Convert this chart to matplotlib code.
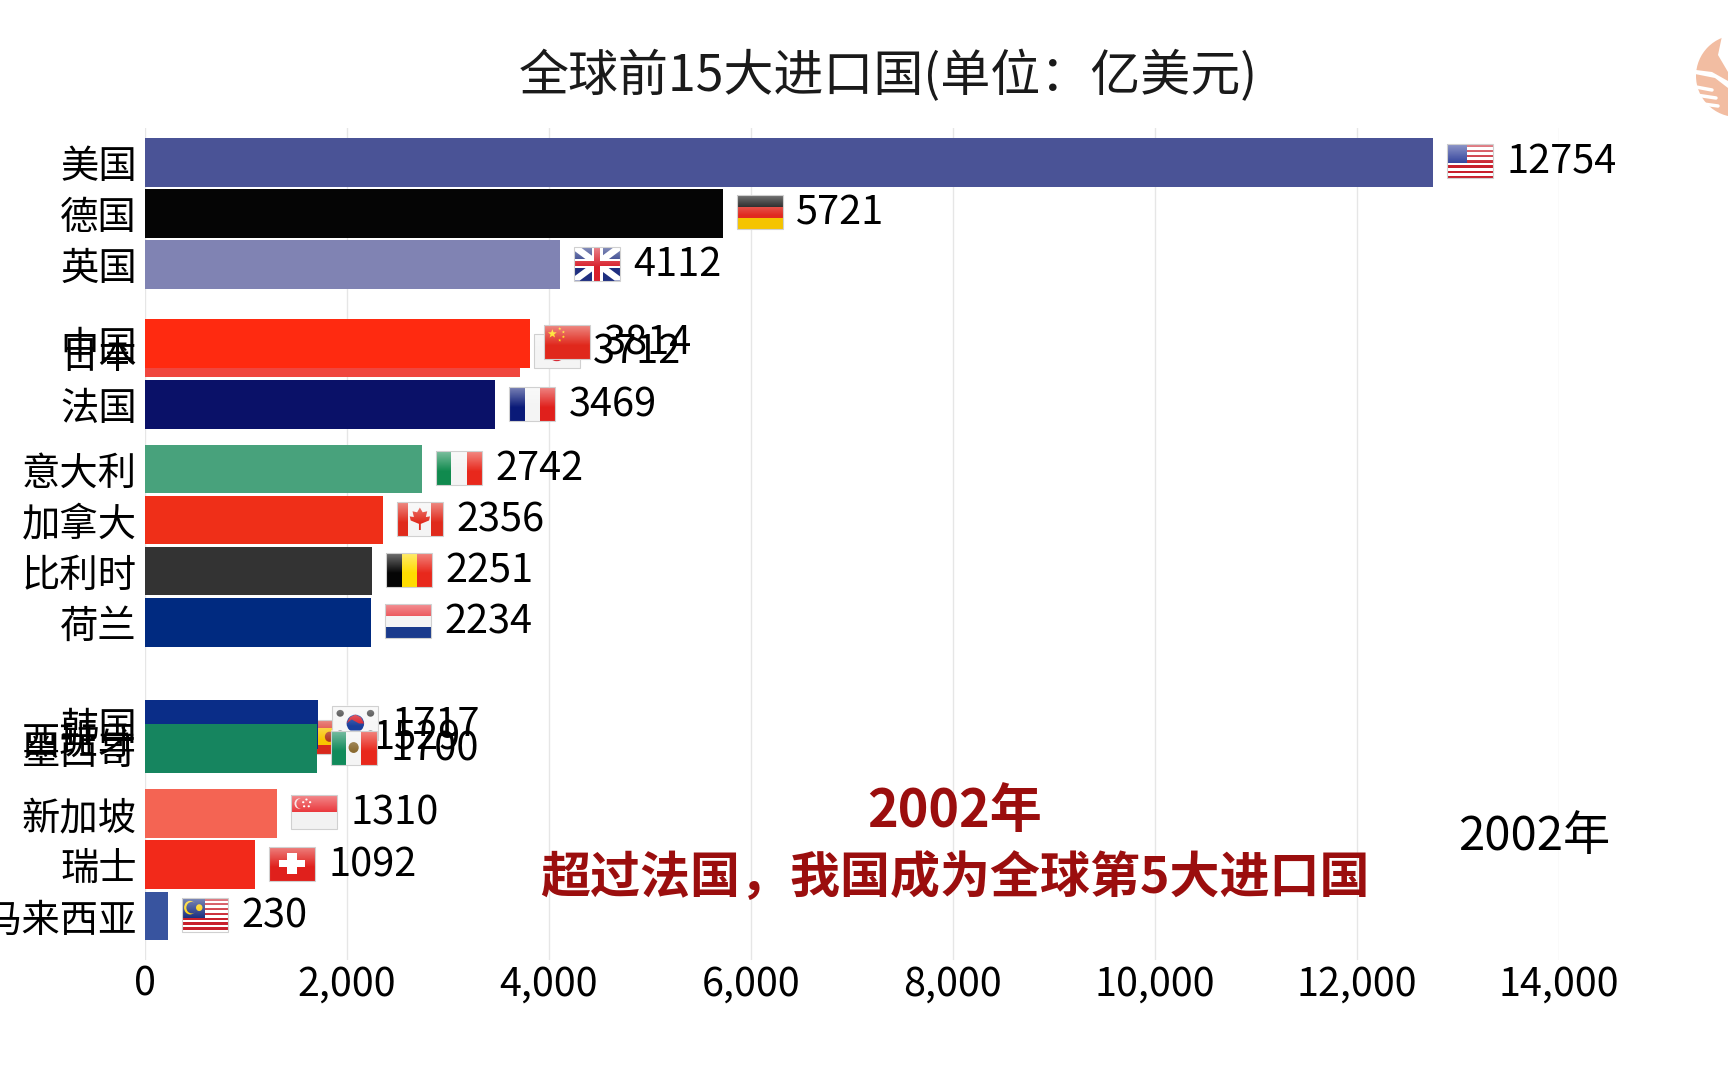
import numpy as np
import matplotlib
matplotlib.use("Agg")
import matplotlib.pyplot as plt
from matplotlib.patches import Rectangle, Circle, Polygon, Ellipse
from matplotlib.transforms import Affine2D

plt.rcParams["font.family"] = ["Noto Sans CJK SC", "DejaVu Sans"]

# back to front, the video frame was caught mid-swap so ranks are fractional
names = ["美国", "德国", "英国", "日本", "中国", "法国", "意大利", "加拿大", "比利时", "荷兰",
         "西班牙", "韩国", "墨西哥", "新加坡", "瑞士", "马来西亚"]
values = [12754, 5721, 4112, 3712, 3814, 3469, 2742, 2356, 2251, 2234,
          1529, 1717, 1700, 1310, 1092, 230]
ranks = [0, 1.0, 2.0, 3.72, 3.54, 4.74, 6.0, 7.0, 8.0, 9.0,
         11.26, 11.0, 11.47, 12.74, 13.74, 14.75]
colors = ["#4a5396", "#050505", "#8083b3", "#f0463e", "#ff2a10", "#0a1168", "#48a27c", "#ef2f18",
          "#333333", "#002a80", "#d8342a", "#0a2d88", "#16855f", "#f46453", "#f2291a", "#38549f"]
flag_keys = ["us", "de", "gb", "jp", "cn", "fr", "it", "ca", "be", "nl",
             "es", "kr", "mx", "sg", "ch", "my"]
xticks = [0, 2000, 4000, 6000, 8000, 10000, 12000, 14000]
year = "2002年"
note = "超过法国，我国成为全球第5大进口国"
title = "全球前15大进口国(单位：亿美元)"

W, H = 1728, 1080
RIGHT = 1558.5
fig = plt.figure(figsize=(W / 100, H / 100), dpi=100, facecolor="white")
ax = fig.add_axes([145 / W, 1 - 960 / H, (RIGHT - 145) / W, (960 - 128) / H])
ax.set_xlim(0, 14000)
px_per_rank = 51.1
ax.set_ylim((960 - 162.4) / px_per_rank, (128 - 162.4) / px_per_rank)

for s in ax.spines.values():
    s.set_visible(False)
ax.set_xticks(xticks)
ax.set_xticklabels([f"{t:,}" for t in xticks], fontsize=28.4)
ax.tick_params(axis="x", length=0, pad=3)
ax.set_yticks([])
ax.grid(axis="x", color="#e6e6e6", lw=1)
ax.set_axisbelow(True)

PX = 14000 / (RIGHT - 145)  # data units per pixel in x
FW, FH = 46 * PX, 34 / px_per_rank


def stripes(cols, vertical=False):
    out = []
    n = len(cols)
    for i, c in enumerate(cols):
        if vertical:
            out.append(Rectangle((i / n, 0), 1 / n, 1, fc=c))
        else:
            out.append(Rectangle((0, i / n), 1, 1 / n, fc=c))
    return out


def star(cx, cy, r, c="#ffe000"):
    a = np.linspace(0, 2 * np.pi, 11)[:-1] - np.pi / 2
    rr = np.where(np.arange(10) % 2 == 0, r, r * 0.42)
    return Polygon(np.c_[cx + rr * np.cos(a), cy + rr * np.sin(a) * 46 / 34], fc=c)


def flag_shapes(key):
    # unit square, y pointing down
    if key == "us":
        out = stripes(["#c8202c", "#ffffff"] * 6 + ["#c8202c"])
        return out + [Rectangle((0, 0), 0.45, 0.54, fc="#2f3f9a")]
    if key == "de":
        return stripes(["#000000", "#e02a20", "#f5c400"])
    if key == "gb":
        out = [Rectangle((0, 0), 1, 1, fc="#1f2f80")]
        for p in ([(0, 0), (0.12, 0), (1, 0.88), (1, 1), (0.88, 1), (0, 0.12)],
                  [(1, 0), (1, 0.12), (0.12, 1), (0, 1), (0, 0.88), (0.88, 0)]):
            out.append(Polygon(p, fc="#ffffff"))
        out.append(Rectangle((0.38, 0), 0.24, 1, fc="#ffffff"))
        out.append(Rectangle((0, 0.36), 1, 0.28, fc="#ffffff"))
        out.append(Rectangle((0.44, 0), 0.12, 1, fc="#d8202c"))
        out.append(Rectangle((0, 0.43), 1, 0.14, fc="#d8202c"))
        return out
    if key == "jp":
        return [Rectangle((0, 0), 1, 1, fc="#f4f4f4"), Ellipse((0.5, 0.5), 0.42, 0.57, fc="#d8202c")]
    if key == "cn":
        out = [Rectangle((0, 0), 1, 1, fc="#e0281c"), star(0.18, 0.25, 0.1)]
        for cx, cy in [(0.34, 0.1), (0.42, 0.2), (0.42, 0.34), (0.34, 0.44)]:
            out.append(star(cx, cy, 0.035))
        return out
    if key == "fr":
        return stripes(["#0a1a78", "#f4f4f4", "#e0201c"], True)
    if key == "it":
        return stripes(["#108a4e", "#f4f4f4", "#e8281c"], True)
    if key == "ca":
        out = [Rectangle((0, 0), 1, 1, fc="#f4f4f4"),
               Rectangle((0, 0), 0.25, 1, fc="#e02a1c"), Rectangle((0.75, 0), 0.25, 1, fc="#e02a1c")]
        leaf = [(0.5, 0.16), (0.56, 0.3), (0.66, 0.27), (0.63, 0.44), (0.72, 0.42), (0.7, 0.54),
                (0.52, 0.64), (0.52, 0.82), (0.48, 0.82), (0.48, 0.64), (0.3, 0.54), (0.28, 0.42),
                (0.37, 0.44), (0.34, 0.27), (0.44, 0.3)]
        return out + [Polygon(leaf, fc="#e02a1c")]
    if key == "be":
        return stripes(["#050505", "#ffdc00", "#e8281c"], True)
    if key == "nl":
        return stripes(["#e8343a", "#f4f4f4", "#1a3a8c"])
    if key == "es":
        return stripes(["#d8281c", "#f8c400", "#f8c400", "#d8281c"]) + [Ellipse((0.35, 0.5), 0.2, 0.3, fc="#b03a20")]
    if key == "kr":
        out = [Rectangle((0, 0), 1, 1, fc="#f6f6f6"), Ellipse((0.5, 0.5), 0.38, 0.52, fc="#1a3f9c"),
               Polygon([(0.31, 0.5), (0.42, 0.38), (0.58, 0.5), (0.69, 0.5), (0.62, 0.32), (0.5, 0.24), (0.38, 0.32)], fc="#d8202c")]
        for cx, cy in [(0.17, 0.2), (0.83, 0.2), (0.17, 0.8), (0.83, 0.8)]:
            out.append(Ellipse((cx, cy), 0.16, 0.2, fc="#333333"))
        return out
    if key == "mx":
        return stripes(["#108a5a", "#f4f4f4", "#e8281c"], True) + [Ellipse((0.5, 0.5), 0.22, 0.32, fc="#8a6a30")]
    if key == "sg":
        out = stripes(["#e8282c", "#f2f2f2"]) + [Ellipse((0.17, 0.24), 0.2, 0.3, fc="#f8e0e0"),
                                                Ellipse((0.21, 0.24), 0.2, 0.3, fc="#e8282c")]
        for cx, cy in [(0.33, 0.12), (0.41, 0.2), (0.38, 0.32), (0.28, 0.32), (0.26, 0.2)]:
            out.append(Ellipse((cx, cy), 0.05, 0.06, fc="#ffffff"))
        return out
    if key == "ch":
        return [Rectangle((0, 0), 1, 1, fc="#e0201c"), Rectangle((0.39, 0.2), 0.22, 0.6, fc="#ffffff"),
                Rectangle((0.22, 0.39), 0.56, 0.22, fc="#ffffff")]
    if key == "my":
        out = stripes(["#c8202c", "#ffffff"] * 7)
        out += [Rectangle((0, 0), 0.5, 0.57, fc="#1a2f80"),
                Ellipse((0.17, 0.28), 0.26, 0.4, fc="#ffd000"), Ellipse((0.21, 0.28), 0.24, 0.34, fc="#1a2f80"),
                Ellipse((0.37, 0.28), 0.14, 0.2, fc="#ffd000")]
        return out
    return []


# soft white fade at the top of each flag, same shine as the video's icons
gloss = np.ones((34, 1, 4))
gloss[:, 0, 3] = np.clip(0.45 * (1 - np.arange(34) / 20), 0, 0.45)

z = 3
for name, v, r, c, key in zip(names, values, ranks, colors, flag_keys):
    ax.barh(r, v, height=0.95, color=c, zorder=z)
    fx = v + 14 * PX
    fy = r - 1 / px_per_rank - FH / 2
    tr = Affine2D().scale(FW, FH).translate(fx, fy) + ax.transData
    for patch in flag_shapes(key):
        patch.set_transform(tr)
        patch.set_edgecolor("none")
        patch.set_zorder(z + 0.1)
        patch.set_clip_on(False)
        ax.add_patch(patch)
    ax.imshow(gloss, extent=[fx, fx + FW, fy + FH, fy], aspect="auto", zorder=z + 0.2, clip_on=False)
    ax.add_patch(Rectangle((fx, fy), FW, FH, fc="none", ec="#d0d0d0", lw=0.8, zorder=z + 0.3, clip_on=False))
    ax.text(v + 73.5 * PX, r + 0.5 / px_per_rank, str(v), fontsize=28.6, va="center", ha="left",
            color="black", zorder=z + 0.4, clip_on=False)
    ax.text(-8 * PX, r + 5 / px_per_rank, name, fontsize=27.6, va="center", ha="right",
            color="black", zorder=z + 0.4, clip_on=False)
    z += 1

ax.set_xlim(0, 14000)
ax.set_ylim((960 - 162.4) / px_per_rank, (128 - 162.4) / px_per_rank)

fig.text(888 / W, 1 - 77 / H, title, fontsize=36, ha="center", va="center", color="#1a1a1a")
fig.text(955 / W, 1 - 812 / H, year, fontsize=37.5, fontweight="bold", ha="center", va="center", color="#9b0e0e")
fig.text(955 / W, 1 - 879 / H, note, fontsize=36, fontweight="bold", ha="center", va="center", color="#9b0e0e")
fig.text(1534 / W, 1 - 837 / H, year, fontsize=34, ha="center", va="center", color="black")

# logo cut off by the right edge
logo = fig.add_axes([0, 0, 1, 1], facecolor="none", zorder=20)
logo.set_xlim(0, W)
logo.set_ylim(H, 0)
logo.axis("off")
peach = "#f2bda2"
logo.add_patch(Circle((1737, 76), 41, fc=peach, ec="none"))
logo.add_patch(Polygon([(1722, 36), (1718, 55), (1728, 72), (1728, 30)], fc="white", ec="none"))
logo.add_patch(Polygon([(1695, 74), (1715, 78), (1728, 88), (1728, 81), (1712, 72), (1696, 70)], fc="white", ec="none"))
for y0, x1 in [(90, 1712), (98, 1716), (106, 1718)]:
    logo.plot([1696, x1], [y0 - 3, y0], color="white", lw=2.5, solid_capstyle="round")

fig.savefig("out.png", dpi=100)
